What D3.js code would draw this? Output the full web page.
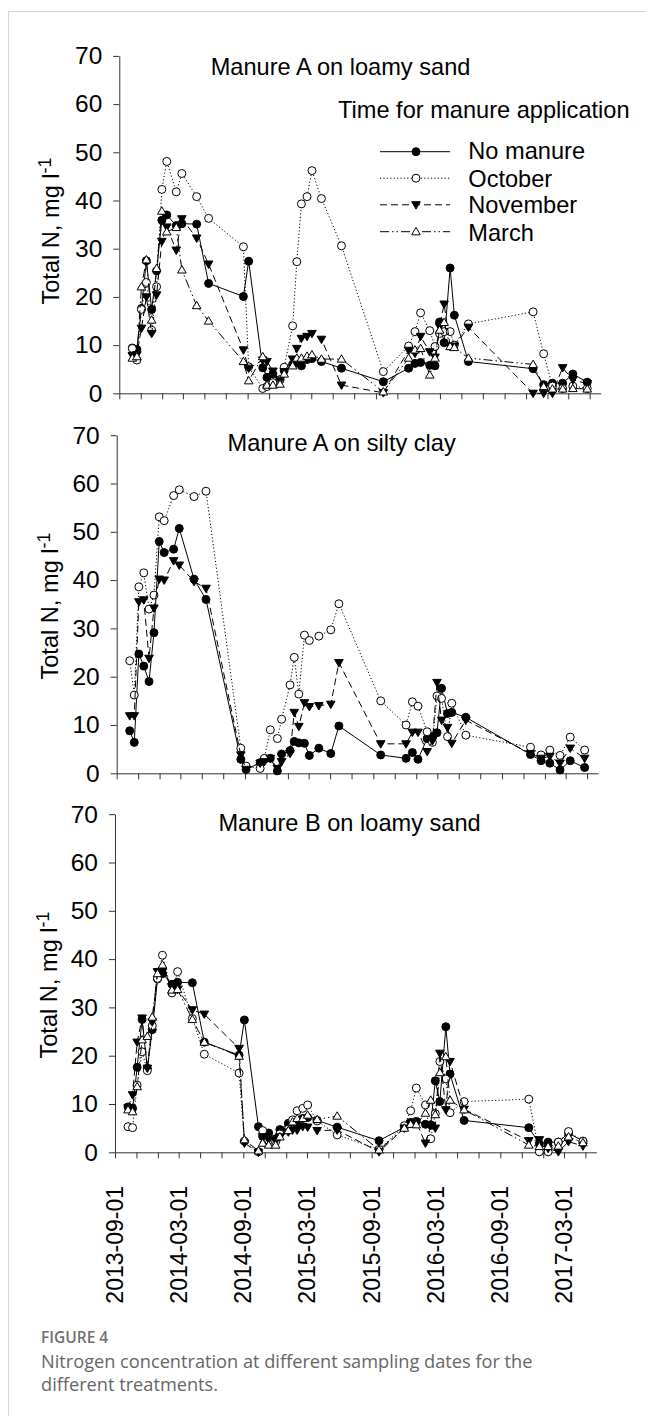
<!DOCTYPE html>
<html><head><meta charset="utf-8">
<script src="https://cdn.jsdelivr.net/npm/d3@7"></script>
<style>
body{margin:0;background:#fff;}
svg{display:block;}
</style></head><body>
<svg id="chart" width="646" height="1416"></svg>
<script>
// ---------------- DATA ----------------
const sampleDates = [
 "2013-10-08","2013-10-21","2013-11-03","2013-11-17","2013-12-02","2013-12-16","2013-12-31","2014-01-14",
 "2014-02-10","2014-02-26","2014-04-09","2014-05-13","2014-08-20","2014-09-04","2014-10-14","2014-10-26",
 "2014-11-12","2014-12-02","2014-12-14","2015-01-07","2015-01-19","2015-02-01","2015-02-17","2015-03-03",
 "2015-03-30","2015-05-03","2015-05-26","2015-09-22","2015-12-03","2015-12-21","2016-01-06","2016-02-01",
 "2016-02-16","2016-02-29","2016-03-13","2016-03-30","2016-04-11","2016-05-21","2016-11-21","2016-12-21",
 "2017-01-15","2017-02-13","2017-03-14","2017-04-24"];

const seriesNames = ["No manure","October","November","March"];
const panelTitles = ["Manure A on loamy sand","Manure A on silty clay","Manure B on loamy sand"];
const legendTitle = "Time for manure application";
const yAxisLabel = "Total N, mg l";
const yAxisLabelSup = "-1";
const yTicks = [0,10,20,30,40,50,60,70];
const xLabelDates = ["2013-09-01","2014-03-01","2014-09-01","2015-03-01","2015-09-01","2016-03-01","2016-09-01","2017-03-01"];
const xDomain = ["2013-09-01","2017-06-01"];

// loamy sand, no manure (control shared by manure A and manure B panels)
const noManureLoamy = [9.4,9.1,17.6,27.5,17.4,25.4,35.9,37.0,34.8,35.2,35.1,22.8,20.1,27.4,5.3,3.3,4.0,2.8,4.7,6.0,
 6.3,5.7,7.0,7.2,6.6,null,5.2,2.4,5.2,6.2,6.4,5.8,5.7,14.8,10.5,26.0,16.2,6.6,5.1,1.8,2.1,2.1,4.0,2.3];
// Manure A on loamy sand
const octoberALoamy = [9.3,6.9,17.4,23.0,13.1,22.1,42.3,48.1,41.8,45.6,40.8,36.3,30.4,5.5,1.0,1.4,2.2,2.8,5.4,14.0,
 27.3,39.3,40.8,46.2,40.4,null,30.6,4.5,9.8,12.8,16.7,13.0,9.7,12.4,12.8,12.8,10.0,14.4,16.9,8.2,1.5,1.0,1.5,1.0];
const novemberALoamy = [7.8,8.0,13.5,20.0,12.4,20.4,31.5,34.5,29.7,36.2,32.2,26.8,9.0,5.2,6.9,6.6,4.6,2.6,4.5,7.1,
 9.3,11.4,11.8,12.4,11.2,null,1.7,0.1,8.9,8.3,11.8,8.6,7.5,13.8,18.5,9.7,9.8,13.7,0,0,0,5.3,2.8,2.0];
const marchALoamy = [7.3,7.6,22.1,27.7,15.2,25.9,37.8,33.5,34.4,25.6,18.2,15.0,6.6,2.6,7.6,1.7,1.7,1.9,4.0,5.7,
 7.3,7.3,7.7,8.0,7.1,null,7.1,0.3,7.3,9.0,9.3,3.8,7.3,13.1,14.7,9.7,9.5,7.3,6.0,1.4,0.9,0.9,1.0,0.9];
// Manure A on silty clay
const noManureClay = [8.8,6.4,24.7,22.2,19.0,29.1,48.0,45.7,46.4,50.7,40.2,36.0,2.9,0.8,2.2,2.9,3.1,0.5,4.0,4.7,
 6.6,6.3,6.2,3.7,5.2,4.1,9.8,3.8,3.1,4.3,2.9,7.2,7.6,8.4,17.6,12.4,12.6,11.6,3.9,2.6,2.1,0.7,2.6,1.2];
const octoberAClay = [23.3,16.2,38.6,41.5,34.0,36.9,53.1,52.3,57.5,58.7,57.3,58.4,5.2,1.5,1.0,3.1,9.0,7.2,11.2,18.3,
 24.0,16.4,28.6,27.5,28.4,29.7,35.1,15.0,10.0,14.8,13.9,8.6,6.4,16.0,15.5,7.6,14.5,7.9,5.4,3.8,4.8,3.7,7.5,4.8];
const novemberAClay = [11.9,11.9,35.5,35.9,23.8,34.2,40.2,40.0,44.0,43.1,39.7,38.3,3.8,0.8,2.1,2.4,3.1,1.0,2.4,4.1,
 12.6,9.7,14.6,13.8,14.0,14.3,22.9,6.1,6.1,8.5,8.5,4.5,6.7,18.8,11.0,9.5,6.2,11.0,4.1,3.1,3.5,2.1,5.2,3.1];
// Manure B on loamy sand
const octoberBLoamy = [5.3,5.1,13.9,20.8,16.9,26.2,36.0,40.8,33.0,37.4,27.7,20.3,16.4,2.3,0.1,4.5,2.5,2.2,3.8,4.8,
 6.7,8.6,9.1,9.8,6.5,null,3.6,0.6,5.5,8.6,13.3,9.8,2.8,8.0,18.8,15.2,8.2,10.5,11.0,0.1,0.1,2.1,4.3,2.3];
const novemberBLoamy = [9.2,11.9,22.8,27.8,17.4,27.0,37.4,37.4,34.3,33.7,29.5,28.6,21.5,1.9,0.0,3.2,2.6,2.3,3.2,4.2,
 4.6,4.6,5.3,5.2,4.5,null,4.6,0.1,5.0,6.0,6.2,1.9,5.5,5.0,20.5,8.8,18.8,8.9,2.4,2.6,0.8,0.1,2.2,1.3];
const marchBLoamy = [8.8,8.4,13.6,23.3,24.0,28.0,37.0,38.8,33.6,33.7,27.5,22.8,19.9,2.6,0.3,1.9,1.5,1.5,3.2,4.5,
 6.3,7.0,7.0,7.7,6.8,null,7.5,0.5,5.0,5.8,5.7,8.1,10.8,7.8,16.5,19.8,10.8,8.8,1.5,1.2,1.2,1.3,3.2,2.0];

const captionLabel = "FIGURE 4";
const captionLines = ["Nitrogen concentration at different sampling dates for the","different treatments."];

// ---------------- LAYOUT / STYLE ----------------
const FONT = "'Liberation Sans', Arial, sans-serif";
const FS = 23.6;
const parse = d3.utcParse("%Y-%m-%d");
const dates = sampleDates.map(parse);

const styles = {
  "No manure": {dash:null, marker:"circle", fill:"#000"},
  "October":   {dash:"1.2,2.2", marker:"circle", fill:"#fff"},
  "November":  {dash:"7,4", marker:"down", fill:"#000"},
  "March":     {dash:"9,3,1.5,3,1.5,3", marker:"up", fill:"#fff"}
};
function markerPath(type){
  if(type==="circle") return d3.symbol(d3.symbolCircle, 50)();
  if(type==="up") return "M-4.3,3.1L4.3,3.1L0,-4.3Z";
  return "M-4.3,-3.1L4.3,-3.1L0,4.3Z";
}

const panels = [
  {title:panelTitles[0], x0:119.3, y0:393.3, yTop:55.9, tx:210.7, ty:75, ylc:231, ylx:59,
   series:[["No manure",noManureLoamy],["October",octoberALoamy],["November",novemberALoamy],["March",marchALoamy]], legend:true},
  {title:panelTitles[1], x0:116.7, y0:773.3, yTop:435.2, tx:227.6, ty:450.7, ylc:606, ylx:58,
   series:[["No manure",noManureClay],["October",octoberAClay],["November",novemberAClay]]},
  {title:panelTitles[2], x0:115.0, y0:1152.3, yTop:814.2, tx:218.4, ty:830.7, ylc:985, ylx:57,
   series:[["No manure",noManureLoamy],["October",octoberBLoamy],["November",novemberBLoamy],["March",marchBLoamy]], xlabels:true}
];
const plotW = 481.3;

const svg = d3.select("#chart");
svg.append("rect").attr("width",646).attr("height",1416).attr("fill","#fff");
svg.append("rect").attr("x",8.5).attr("y",11.5).attr("width",700).attr("height",1500)
  .attr("fill","none").attr("stroke","#d6d6d6").attr("stroke-width",1);

panels.forEach(p=>{
  const x = d3.scaleUtc().domain(xDomain.map(parse)).range([p.x0, p.x0+plotW]);
  const y = d3.scaleLinear().domain([0,70]).range([p.y0, p.yTop]);
  const g = svg.append("g");

  // axes
  const xAx = d3.axisBottom(x).tickValues(d3.utcMonth.every(2).range(parse("2013-09-01"), parse("2017-06-01")))
     .tickSize(6).tickSizeOuter(0).tickFormat("");
  const gx = g.append("g").attr("transform",`translate(0,${p.y0})`).call(xAx);
  const yAx = d3.axisLeft(y).tickValues(yTicks).tickSize(6).tickSizeOuter(0).tickPadding(11);
  const gy = g.append("g").attr("transform",`translate(${p.x0},0)`).call(yAx);
  [gx,gy].forEach(a=>{
    a.selectAll("path,line").attr("stroke","#333").attr("stroke-width",1);
    a.selectAll("text").attr("font-family",FONT).attr("font-size",24.5).attr("fill","#000");
  });

  // title
  g.append("text").attr("x",p.tx).attr("y",p.ty).attr("font-family",FONT).attr("font-size",FS)
    .attr("fill","#000").text(p.title);

  // y label
  const yl = g.append("text").attr("transform",`translate(${p.ylx},${p.ylc}) rotate(-90)`)
    .attr("text-anchor","middle").attr("font-family",FONT).attr("font-size",FS).attr("fill","#000");
  yl.append("tspan").text(yAxisLabel);
  yl.append("tspan").attr("dy",-8).attr("font-size",18).text(yAxisLabelSup);

  // series
  p.series.forEach(([name, vals])=>{
    const st = styles[name];
    const pts = vals.map((v,i)=>({d:dates[i], v})).filter(o=>o.v!==null);
    g.append("path").datum(pts)
      .attr("d", d3.line().x(o=>x(o.d)).y(o=>y(o.v)))
      .attr("fill","none").attr("stroke","#000").attr("stroke-width",1)
      .attr("stroke-dasharray", st.dash);
    g.selectAll(null).data(pts).enter().append("path")
      .attr("d", markerPath(st.marker))
      .attr("transform", o=>`translate(${x(o.d)},${y(o.v)})`)
      .attr("fill", st.fill).attr("stroke","#000").attr("stroke-width",1);
  });

  if(p.legend){
    g.append("text").attr("x",338).attr("y",118.3).attr("font-family",FONT).attr("font-size",FS)
      .attr("fill","#000").text(legendTitle);
    const ly = [151.7,178.2,204.8,231.7], ty = [159.3,186.7,213.3,240.7];
    seriesNames.forEach((n,i)=>{
      const st = styles[n];
      g.append("line").attr("x1",380).attr("x2",450).attr("y1",ly[i]).attr("y2",ly[i])
        .attr("stroke","#000").attr("stroke-width",1).attr("stroke-dasharray",st.dash);
      g.append("path").attr("d",markerPath(st.marker)).attr("transform",`translate(416,${ly[i]})`)
        .attr("fill",st.fill).attr("stroke","#000").attr("stroke-width",1);
      g.append("text").attr("x",468.3).attr("y",ty[i]).attr("font-family",FONT).attr("font-size",FS)
        .attr("fill","#000").text(n);
    });
  }

  if(p.xlabels){
    g.selectAll(null).data(xLabelDates.map(parse)).enter().append("text")
      .attr("transform", d=>`translate(${x(d)},1186) rotate(-90)`)
      .attr("text-anchor","end").attr("dy","0.35em")
      .attr("font-family",FONT).attr("font-size",23).attr("fill","#000")
      .text(d3.utcFormat("%Y-%m-%d"));
  }
});

// caption
svg.append("text").attr("x",41).attr("y",1343).attr("font-family","'Open Sans', sans-serif")
  .attr("font-weight",600).attr("font-size",15.5).attr("fill","#707070").text(captionLabel);
captionLines.forEach((t,i)=>{
  svg.append("text").attr("x",41).attr("y",1367.5+i*23.3).attr("font-family","'Open Sans', sans-serif")
    .attr("font-size",18.2).attr("fill","#666").text(t);
});
</script>
</body></html>
